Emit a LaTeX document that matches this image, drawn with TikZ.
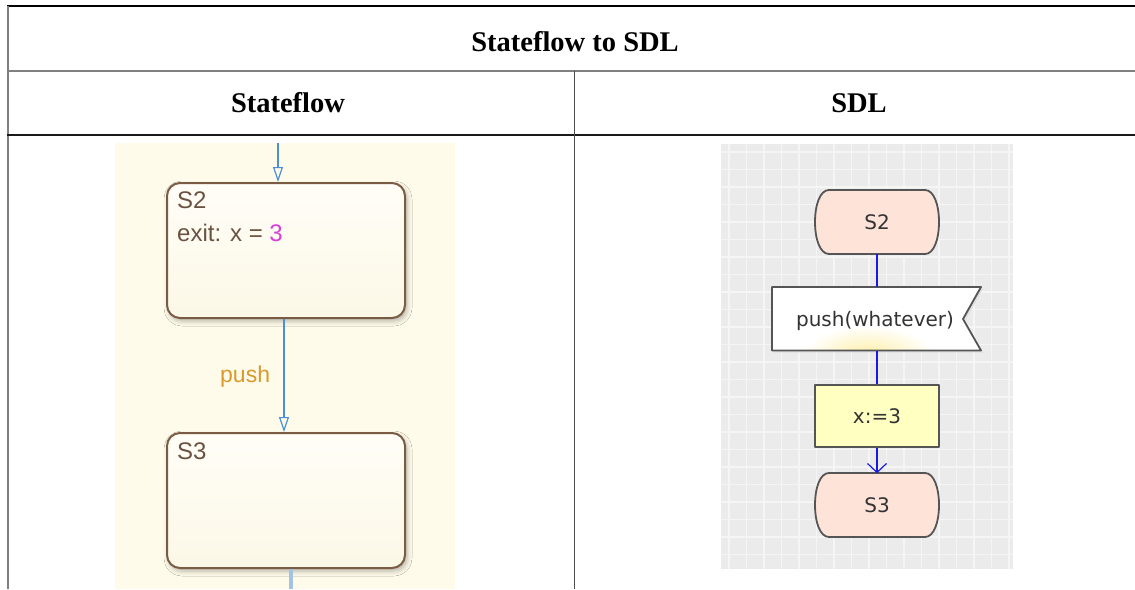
\documentclass[tikz,border=0pt]{standalone}
\usepackage{fontspec}
\setmainfont{Liberation Serif}
\newfontfamily\sffont{Liberation Sans}
\newfontfamily\sdlfont{DejaVu Sans}
\usetikzlibrary{arrows.meta,shadows.blur,calc}
\definecolor{sfbg}{HTML}{FFFBEA}
\definecolor{sfbrown}{HTML}{7A5C45}
\definecolor{sftext}{HTML}{6B5240}
\definecolor{sfblue}{HTML}{4A8FD8}
\definecolor{sfblue2}{HTML}{A3C3E3}
\definecolor{sforange}{HTML}{D99A2B}
\definecolor{sfmag}{HTML}{D83FD8}
\definecolor{sdlbg}{HTML}{EBEBEB}
\definecolor{sdlgrid}{HTML}{F5F5F5}
\definecolor{sdlstate}{HTML}{FDE3D8}
\definecolor{sdltask}{HTML}{FFFFC2}
\definecolor{sdledge}{HTML}{555555}
\definecolor{sdlblue}{HTML}{1A1AE6}
\definecolor{sdltext}{HTML}{333333}
\definecolor{glow}{HTML}{FDEFA8}
\tikzset{
  hdr/.style={font=\bfseries\fontsize{28.5}{32}\selectfont, inner sep=0pt},
  sfstate/.style={draw=sfbrown, line width=2pt, rounded corners=13pt,
    top color=white!60!sfbg, bottom color=sfbg!80!black!6!sfbg,
    minimum width=238pt, minimum height=135pt, inner sep=0pt,
    blur shadow={shadow xshift=2pt, shadow yshift=-3pt, shadow blur radius=5pt, shadow opacity=30}},
  sflabel/.style={font=\sffont\fontsize{24}{28}\selectfont, text=sftext, inner sep=0pt, anchor=base west},
  sfarrow/.style={sfblue, line width=1.4pt, -{Triangle[open, length=15pt, width=10pt, line width=1.2pt]}},
  sdlshape/.style={draw=sdledge, line width=1.8pt, line join=round},
  sdltxt/.style={font=\sdlfont\fontsize{20}{23}\selectfont, text=sdltext},
  sdlline/.style={sdlblue, line width=1.3pt},
  sdltaskbox/.style={sdlshape, fill=sdltask, minimum width=124pt, minimum height=62pt, inner sep=0pt, sdltxt},
}
\newcommand\sdlstateshape[2]{%
  \draw[sdlshape, fill=sdlstate] (#1-48,#2-32) -- (#1+48,#2-32)
    .. controls (#1+57,#2-32) and (#1+62,#2-17) .. (#1+62,#2)
    .. controls (#1+62,#2+17) and (#1+57,#2+32) .. (#1+48,#2+32)
    -- (#1-48,#2+32)
    .. controls (#1-57,#2+32) and (#1-62,#2+17) .. (#1-62,#2)
    .. controls (#1-62,#2-17) and (#1-57,#2-32) .. cycle;}
\begin{document}
\begin{tikzpicture}[x=1pt,y=-1pt]
\useasboundingbox (0,0) rectangle (1135,589);
\fill[white] (0,0) rectangle (1135,589);
% table
\draw[black, line width=1.3pt] (7,6) -- (1135,6);
\draw[black!50, line width=2pt] (7.5,5.5) -- (7.5,589);
\draw[black!50, line width=2pt] (7,71) -- (1135,71);
\draw[black!90, line width=1.3pt] (7,135) -- (1135,135);
\draw[black!70, line width=1.3pt] (574.5,71) -- (574.5,589);
\node[hdr] (title) at (575,42) {Stateflow to SDL};
\node[hdr] (hsf) at (288,103) {Stateflow};
\node[hdr] (hsdl) at (859,103) {SDL};

% Stateflow panel
\fill[sfbg] (115,143) rectangle (455,589);
\node[sfstate] (s2) at (286,250.5) {};
\node[sfstate] (s3) at (286,500.5) {};
\node[sflabel] (s2name) at (177,208) {S2};
\node[sflabel] (s2exit) at (177,241) {exit: x = \textcolor{sfmag}{3}};
\node[sflabel] (s3name) at (177,459) {S3};
\coordinate (sfin) at (278,143);
\draw[sfarrow] (sfin) -- (sfin |- s2.north);
\draw[sfarrow] ($(s2.south)+(-2,0)$) -- ($(s3.north)+(-2,0)$);
\node[sflabel, text=sforange, font=\sffont\fontsize{23}{27}\selectfont] (push) at (220,382) {push};
\coordinate (sfout) at (291,589);
\draw[sfblue2, line width=3.5pt] (s3.south -| sfout) -- (sfout);

% SDL panel
\fill[sdlbg] (721,144) rectangle (1013,569);
\begin{scope}
\clip (721,144) rectangle (1013,569);
\foreach \x in {729,746.5,...,1013} \draw[sdlgrid, line width=1.2pt] (\x,144) -- (\x,569);
\foreach \y in {152,169.5,...,569} \draw[sdlgrid, line width=1.2pt] (721,\y) -- (1013,\y);
\end{scope}
% state S2
\sdlstateshape{877}{222}
\node[sdltxt, minimum width=124pt, minimum height=64pt, inner sep=0pt] (q2) at (877,222) {S2};
% input signal
\fill[black!12] (774,289) -- (983,289) -- (965,321) -- (983,352.5) -- (774,352.5) -- cycle;
\fill[white] (772,287) -- (981,287) -- (963,319) -- (981,350.5) -- (772,350.5) -- cycle;
\begin{scope}
\clip (772,287) -- (981,287) -- (963,319) -- (981,350.5) -- (772,350.5) -- cycle;
\shade[inner color=glow, outer color=white] (868,354) ellipse (65 and 28);
\end{scope}
\draw[sdlshape] (772,287) -- (981,287) -- (963,319) -- (981,350.5) -- (772,350.5) -- cycle;
\node[sdltxt, minimum width=209pt, minimum height=63.5pt, inner sep=0pt] (sig) at (875,321) {push(whatever)};
% task
\node[sdltaskbox] (task) at (877,416) {x:=3};
% state S3
\sdlstateshape{877}{505}
\node[sdltxt, minimum width=124pt, minimum height=63pt, inner sep=0pt] (q3) at (877,505) {S3};
% connectors
\draw[sdlline] (q2.south) -- (q2.south |- 877,287);
\draw[sdlline] (877,350.5) -- (task.north);
\draw[sdlline, -{Straight Barb[length=9pt, width=19pt, line width=1.2pt]}] (task.south) -- (q3.north);
\end{tikzpicture}
\end{document}
